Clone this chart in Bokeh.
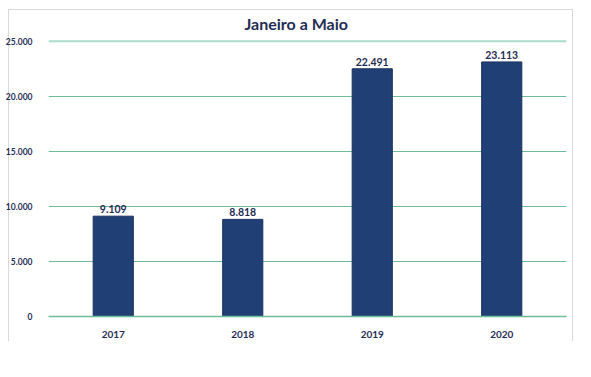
from bokeh.plotting import figure
from bokeh.models import ColumnDataSource, Range1d, FactorRange, FixedTicker, LabelSet, Title, Span
from bokeh.core.properties import value
from bokeh.embed import file_html
from bokeh.resources import INLINE

years = ["2017", "2018", "2019", "2020"]
values = [9109, 8818, 22491, 23113]
value_labels = ["9.109", "8.818", "22.491", "23.113"]
tick_values = [0, 5000, 10000, 15000, 20000, 25000]
tick_labels = ["0", "5.000", "10.000", "15.000", "20.000", "25.000"]

NAVY = "#1f2d55"
GREEN = "#6fba99"
MINT = "#a9dcc8"
BORDER = "#d9d9d9"

src = ColumnDataSource(dict(x=years, y=values, lab=value_labels))

p = figure(width=591, height=377, x_range=FactorRange(*years, range_padding=0),
           y_range=Range1d(0, 25150), output_backend="svg", toolbar_location=None,
           min_border_left=48, min_border_right=25, min_border_top=39, min_border_bottom=61)
p.outline_line_color = None
p.background_fill_color = "white"
p.border_fill_color = None
g = f"linear-gradient({BORDER},{BORDER})"
p.styles = {
    "background": f"{g} 8px 9px / 565px 1px no-repeat, {g} 8px 9px / 1px 332px no-repeat, "
                  f"{g} 572px 9px / 1px 332px no-repeat, white"
}

p.xgrid.grid_line_color = None
p.ygrid.ticker = FixedTicker(ticks=tick_values[:-1])
p.ygrid.grid_line_color = GREEN
p.ygrid.grid_line_width = 1
p.add_layout(Span(location=tick_values[-1], dimension="width", line_color=MINT, line_width=2))

p.vbar(x="x", top="y", width=0.31, source=src, fill_color="#1f3f75", line_color="#1b3260", line_width=1)

p.add_layout(LabelSet(x="x", y="y", text="lab", source=src, text_align="center",
                      text_baseline="bottom", y_offset=3, text_font=value("Lato"),
                      text_font_style="bold", text_font_size="10.5px", text_color=NAVY))

p.yaxis.ticker = FixedTicker(ticks=tick_values)
p.yaxis.major_label_overrides = {v: l for v, l in zip(tick_values, tick_labels)}
p.yaxis.axis_line_color = None
p.yaxis.major_tick_line_color = None
p.yaxis.minor_tick_line_color = None
p.yaxis.major_label_standoff = 10
p.yaxis.major_label_text_font = "Lato"
p.yaxis.major_label_text_font_style = "bold"
p.yaxis.major_label_text_font_size = "8.5px"
p.yaxis.major_label_text_color = NAVY

p.xaxis.axis_line_color = GREEN
p.xaxis.axis_line_width = 1.5
p.xaxis.major_tick_line_color = None
p.xaxis.minor_tick_line_color = None
p.xaxis.major_label_standoff = 8
p.xaxis.major_label_text_font = "Lato"
p.xaxis.major_label_text_font_style = "bold"
p.xaxis.major_label_text_font_size = "10px"
p.xaxis.major_label_text_color = NAVY

p.add_layout(Title(text="Janeiro a Maio", align="left", offset=196, text_font="Lato",
                   text_font_style="bold", text_font_size="16px", text_color=NAVY,
                   standoff=14), "above")

open("out.html", "w").write(file_html(p, INLINE))
